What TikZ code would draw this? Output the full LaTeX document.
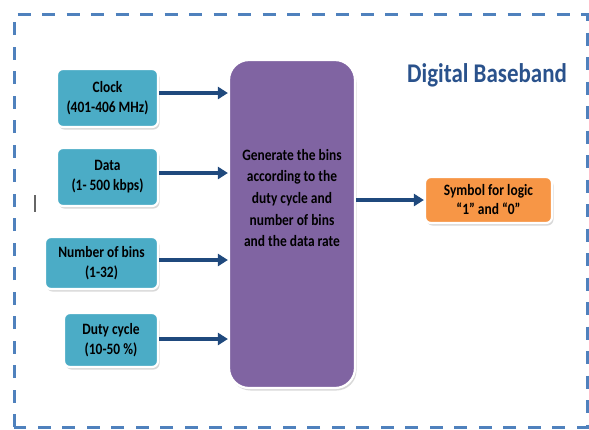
\documentclass[tikz,border=0pt]{standalone}
\usepackage{fontspec}
\setmainfont[FakeStretch=0.85]{Carlito}
\usetikzlibrary{shadows,arrows.meta}
\definecolor{inblue}{HTML}{4BACC6}
\definecolor{procpurple}{HTML}{8064A2}
\definecolor{outorange}{HTML}{F79646}
\definecolor{arrowblue}{HTML}{1F497D}
\definecolor{frameblue}{HTML}{4F81BD}
\definecolor{titleblue}{HTML}{2A528C}
\tikzset{
  blockbase/.style={draw=white, line width=2.2pt, align=center,
    drop shadow={shadow xshift=1.5pt, shadow yshift=-2.5pt, fill=black!30},
    font=\fontsize{15.8}{20}\selectfont\bfseries, text=black, inner sep=0pt},
  inbox/.style={blockbase, fill=inblue, rounded corners=6pt},
  procbox/.style={blockbase, fill=procpurple, rounded corners=20pt},
  outbox/.style={blockbase, fill=outorange, rounded corners=6pt},
  flow/.style={draw=arrowblue, line width=3.2pt, -{Triangle[length=10pt,width=12pt]}},
  frame/.style={draw=frameblue, line width=3pt, dash pattern=on 13pt off 11.5pt}
}
\begin{document}
\begin{tikzpicture}[x=1pt,y=-1pt]
  \useasboundingbox (0,0) rectangle (589,429);
  % dashed enclosure of the baseband block
  \draw[frame] (14,427) -- (14,14) -- (587,14) -- (587,427) -- cycle;
  \node[font=\fontsize{27}{30}\selectfont\bfseries, text=titleblue] (title) at (487,75) {Digital Baseband};
  % stray cursor mark
  \draw[black!60, line width=1.2pt] (35,195) -- (35,212);

  % input blocks
  \node[inbox, minimum width=101pt, minimum height=58pt] (clock) at (107.5,98) {Clock\\(401-406 MHz)};
  \node[inbox, minimum width=101pt, minimum height=58pt] (data) at (107.5,177) {Data\\(1- 500 kbps)};
  \node[inbox, minimum width=113pt, minimum height=52pt] (bins) at (101.5,263) {Number of bins\\(1-32)};
  \node[inbox, minimum width=94pt, minimum height=54pt] (duty) at (111,340) {Duty cycle\\(10-50 \%)};

  % processing block
  \node[procbox, minimum width=126pt, minimum height=328pt] (gen) at (292,224) {};
  \node[font=\fontsize{15.8}{21.7}\selectfont\bfseries, align=center] (gentext) at (292,198)
    {Generate the bins\\according to the\\duty cycle and\\number of bins\\and the data rate};

  % output block
  \node[outbox, minimum width=127pt, minimum height=46pt, font=\fontsize{15.8}{19}\selectfont\bfseries] (sym) at (488.5,200) {Symbol for logic\\``1'' and ``0''};

  % connectors
  \draw[flow] ([yshift=5pt]clock.east) -- ([yshift=5pt]clock.east -| gen.west);
  \draw[flow] ([yshift=4pt]data.east) -- ([yshift=4pt]data.east -| gen.west);
  \draw[flow] ([yshift=3pt]bins.east) -- ([yshift=3pt]bins.east -| gen.west);
  \draw[flow] ([yshift=1pt]duty.east) -- ([yshift=1pt]duty.east -| gen.west);
  \draw[flow] (gen.east |- sym.west) -- (sym.west);
\end{tikzpicture}
\end{document}
